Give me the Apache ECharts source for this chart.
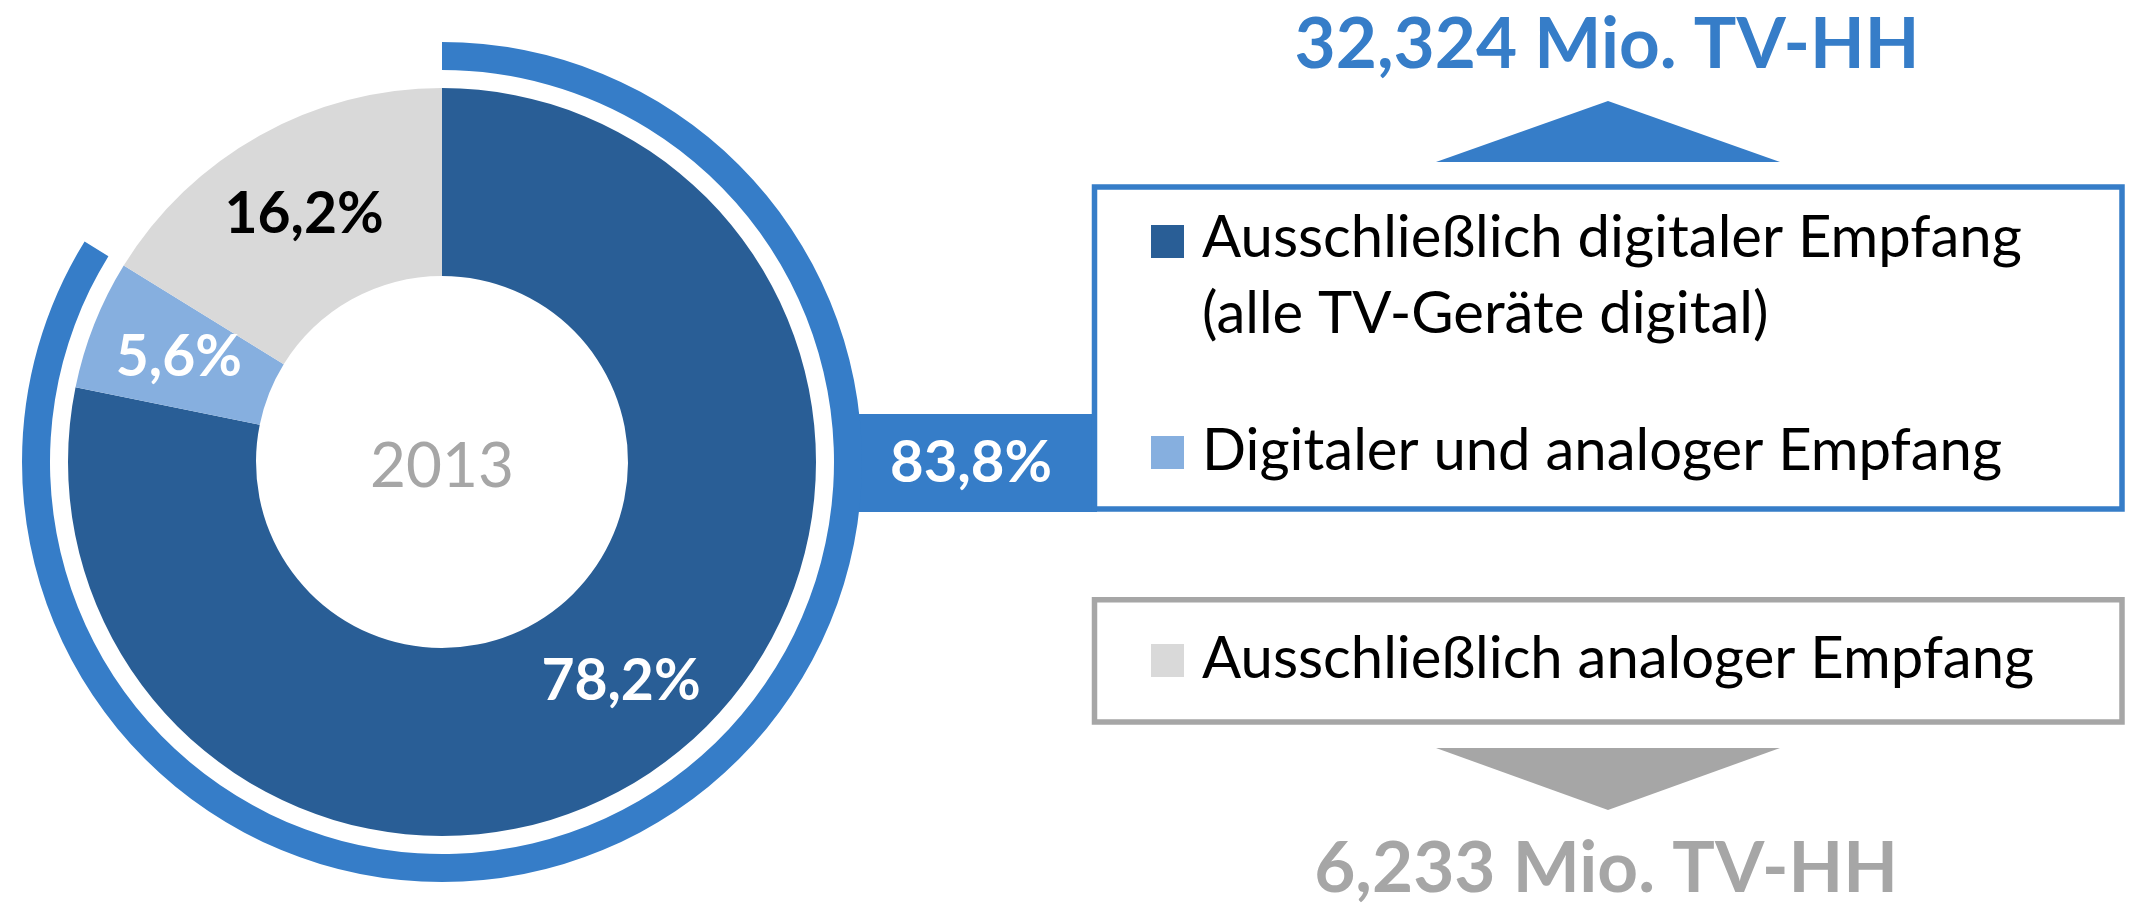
<!DOCTYPE html>
<html>
<head>
<meta charset="utf-8">
<script src="https://cdn.jsdelivr.net/npm/echarts@6/dist/echarts.min.js"></script>
<style>
  html, body { margin: 0; padding: 0; background: #fff; }
  #main { width: 2134px; height: 904px; }
</style>
</head>
<body>
<div id="main"></div>
<script>
// Empfangsart in TV-Haushalten, 2013
var year = '2013';
var categories = [
  'Ausschließlich digitaler Empfang',
  'Digitaler und analoger Empfang',
  'Ausschließlich analoger Empfang'
];
var legendText = [
  'Ausschließlich digitaler Empfang\n(alle TV-Geräte digital)',
  'Digitaler und analoger Empfang',
  'Ausschließlich analoger Empfang'
];
var shares = [78.2, 5.6, 16.2];
var digitalShare = 83.8;
var digitalHH = '32,324 Mio. TV-HH';
var analogHH = '6,233 Mio. TV-HH';

var colors = ['#295e96', '#86afdf', '#d9d9d9'];
var labelColors = ['#ffffff', '#ffffff', '#000000'];
var ringBlue = '#367dc8';
var grey = '#a6a6a6';
var font = 'Lato, "Open Sans", sans-serif';

function fmt(v) {
  return v.toFixed(1).replace('.', ',') + '%';
}

var chart = echarts.init(document.getElementById('main'), null, { renderer: 'canvas' });

var pieData = shares.map(function (v, i) {
  return {
    name: categories[i],
    value: v,
    itemStyle: { color: colors[i] },
    label: { color: labelColors[i] }
  };
});

var ringData = [
  { name: 'digital', value: digitalShare, itemStyle: { color: ringBlue } },
  { name: 'rest', value: 100 - digitalShare, itemStyle: { color: 'rgba(0,0,0,0)' } }
];

var option = {
  animation: false,
  backgroundColor: '#fff',
  series: [
    {
      type: 'pie',
      silent: true,
      center: [442, 462],
      radius: [186, 374],
      startAngle: 90,
      clockwise: true,
      data: pieData,
      label: {
        show: true,
        position: 'inside',
        fontFamily: font,
        fontWeight: 'bold',
        fontSize: 57,
        formatter: function (p) { return fmt(p.value); }
      },
      labelLine: { show: false }
    },
    {
      type: 'pie',
      silent: true,
      center: [442, 462],
      radius: [392, 420],
      startAngle: 90,
      clockwise: true,
      data: ringData,
      label: { show: false },
      labelLine: { show: false }
    }
  ],
  graphic: [
    // connector bar from the ring to the box
    { type: 'rect', z: 0, shape: { x: 845, y: 414, width: 252, height: 98 }, style: { fill: ringBlue } },
    { type: 'text', z: 10, x: 971, y: 463, style: { text: fmt(digitalShare), fill: '#fff', font: 'bold 58px ' + font, align: 'center', verticalAlign: 'middle' } },
    { type: 'text', z: 10, x: 442, y: 467, style: { text: year, fill: grey, font: '62px ' + font, align: 'center', verticalAlign: 'middle' } },
    // top headline and arrow
    { type: 'text', x: 1607, y: 45, style: { text: digitalHH, fill: ringBlue, font: 'bold 71px ' + font, align: 'center', verticalAlign: 'middle' } },
    { type: 'polygon', shape: { points: [[1436, 162], [1608, 101], [1780, 162]] }, style: { fill: ringBlue } },
    // digital box
    { type: 'rect', shape: { x: 1094.5, y: 187, width: 1027.5, height: 322 }, style: { fill: '#fff', stroke: ringBlue, lineWidth: 5.5 } },
    { type: 'rect', shape: { x: 1151, y: 225, width: 33, height: 33 }, style: { fill: colors[0] } },
    { type: 'text', x: 1202, y: 200, style: { text: legendText[0], fill: '#000', font: '58px ' + font, align: 'left', verticalAlign: 'top', lineHeight: 76 } },
    { type: 'rect', shape: { x: 1151, y: 436, width: 33, height: 33 }, style: { fill: colors[1] } },
    { type: 'text', x: 1202, y: 451, style: { text: legendText[1], fill: '#000', font: '58px ' + font, align: 'left', verticalAlign: 'middle' } },
    // analog box
    { type: 'rect', shape: { x: 1094.5, y: 599.7, width: 1027.5, height: 122.3 }, style: { fill: '#fff', stroke: grey, lineWidth: 5.5 } },
    { type: 'rect', shape: { x: 1151, y: 644, width: 33, height: 33 }, style: { fill: colors[2] } },
    { type: 'text', x: 1202, y: 659.5, style: { text: legendText[2], fill: '#000', font: '58px ' + font, align: 'left', verticalAlign: 'middle' } },
    // bottom arrow and headline
    { type: 'polygon', shape: { points: [[1436, 748], [1780, 748], [1608, 810]] }, style: { fill: grey } },
    { type: 'text', x: 1606, y: 869, style: { text: analogHH, fill: grey, font: 'bold 71px ' + font, align: 'center', verticalAlign: 'middle' } }
  ]
};

chart.setOption(option);
</script>
</body>
</html>
